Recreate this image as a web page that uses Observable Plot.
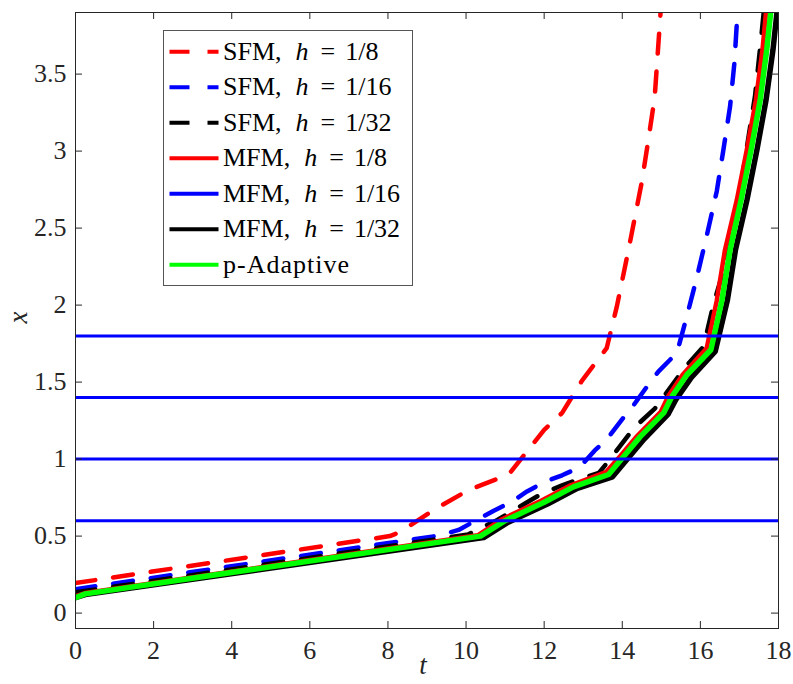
<!DOCTYPE html>
<html>
<head>
<meta charset="utf-8">
<script src="https://cdn.jsdelivr.net/npm/d3@7"></script>
<script src="https://cdn.jsdelivr.net/npm/@observablehq/plot@0.6"></script>
<style>
  html, body { margin: 0; padding: 0; background: #fff; }
  #wrap { position: relative; width: 793px; height: 684px; }
  #legend { position: absolute; left: 163px; top: 30px; }
  #wrap svg text { font-family: "Liberation Serif", "Times New Roman", serif; }
</style>
</head>
<body>
<div id="wrap"></div>
<script>
// ---- data ----
const xTicks = [0, 2, 4, 6, 8, 10, 12, 14, 16, 18];
const yTicks = [0, 0.5, 1, 1.5, 2, 2.5, 3, 3.5];

// SFM, h = 1/8 (red dashed)
const tSFM8 = [0, 8.05, 8.3, 9.17, 10.07, 11.09, 12.0, 12.46, 12.97, 13.27, 13.6, 13.86, 14.16, 14.5, 14.67, 14.83, 14.945, 14.98];
const xSFM8 = [0.195, 0.50, 0.525, 0.67, 0.80, 0.90, 1.19, 1.30, 1.51, 1.61, 1.72, 1.99, 2.36, 2.80, 3.076, 3.35, 3.77, 3.9];

// SFM, h = 1/16 (blue dashed)
const tSFM16 = [0, 9.35, 9.81, 10.24, 10.71, 11.18, 11.56, 12.03, 12.46, 12.9, 13.29, 13.61, 14.0, 14.29, 14.63, 14.93, 15.4, 15.65, 15.91, 16.18, 16.42, 16.59, 16.76, 16.87, 16.95];
const xSFM16 = [0.155, 0.505, 0.54, 0.60, 0.665, 0.725, 0.79, 0.854, 0.895, 0.945, 1.055, 1.13, 1.26, 1.35, 1.47, 1.57, 1.69, 1.925, 2.18, 2.47, 2.74, 3.01, 3.29, 3.57, 3.9];

// SFM, h = 1/32 (black dashed)
const tSFM32 = [0, 10.05, 10.8, 11.5, 11.9, 12.46, 12.84, 13.4, 13.69, 14.16, 14.33, 14.84, 15.06, 15.53, 15.69, 16.08, 16.33, 16.63, 16.84, 17.06, 17.23, 17.40, 17.57, 17.62];
const xSFM32 = [0.135, 0.51, 0.605, 0.71, 0.77, 0.83, 0.865, 0.91, 1.0, 1.157, 1.21, 1.33, 1.405, 1.57, 1.62, 1.73, 2.0, 2.26, 2.54, 2.81, 3.09, 3.36, 3.77, 3.9];

// MFM, h = 1/8 (red solid)
const tMFM8 = [0, 0.25, 10.3, 10.92, 11.92, 12.68, 13.58, 13.95, 14.38, 14.98, 15.18, 15.55, 16.16, 16.42, 16.63, 16.93, 17.19, 17.42, 17.59, 17.68];
const xMFM8 = [0.11, 0.13, 0.505, 0.61, 0.73, 0.83, 0.915, 1.02, 1.15, 1.305, 1.41, 1.55, 1.72, 2.03, 2.36, 2.68, 3.01, 3.33, 3.66, 3.9];

// MFM, h = 1/16 (blue solid) – shown as horizontal levels
const xMFM16 = [0.6, 1.0, 1.4, 1.8];

// MFM, h = 1/32 (black solid)
const tMFM32 = [0, 0.25, 10.45, 11.08, 12.1, 12.85, 13.75, 14.13, 14.56, 15.17, 15.38, 15.77, 16.38, 16.69, 16.9, 17.19, 17.45, 17.68, 17.86, 17.96];
const xMFM32 = [0.10, 0.12, 0.49, 0.59, 0.71, 0.81, 0.885, 1.0, 1.13, 1.29, 1.39, 1.53, 1.70, 2.03, 2.36, 2.68, 3.01, 3.33, 3.66, 3.9];

// p-Adaptive (green)
const tPA = [0, 0.25, 10.37, 11.0, 12.0, 12.75, 13.65, 14.03, 14.46, 15.06, 15.27, 15.65, 16.27, 16.55, 16.76, 17.04, 17.30, 17.53, 17.70, 17.80];
const xPA = [0.10, 0.125, 0.50, 0.60, 0.72, 0.82, 0.90, 1.016, 1.146, 1.30, 1.406, 1.546, 1.71, 2.03, 2.36, 2.68, 3.01, 3.33, 3.66, 3.9];

const legendLabels = ["SFM", "SFM", "SFM", "MFM", "MFM", "MFM", "p-Adaptive"];
const legendH = ["1/8", "1/16", "1/32", "1/8", "1/16", "1/32", null];
const legendColors = ["#ff0000", "#0000ff", "#000000", "#ff0000", "#0000ff", "#000000", "#00ff00"];
const legendDashed = [true, true, true, false, false, false, false];

// ---- build ----
const FONT = "'Liberation Serif', 'Times New Roman', serif";
const zip = (ts, xs) => ts.map((t, i) => ({t, x: xs[i]}));
const W = 793, H = 684;
const mL = 75, mR = 15, mT = 12, mB = 56;
const innerH = H - mT - mB, innerW = W - mL - mR;
const axisColor = "#262626";
const dash = "20,18";
const lw = 4.5;

const chart = Plot.plot({
  width: W, height: H,
  marginLeft: mL, marginRight: mR, marginTop: mT, marginBottom: mB,
  style: `font-family: ${FONT}; font-size: 26px; color: ${axisColor}; background: white; overflow: visible;`,
  x: {domain: [0, 18]},
  y: {domain: [-0.1, 3.9]},
  marks: [
    Plot.line(zip(tSFM8, xSFM8), {x: "t", y: "x", stroke: "#ff0000", strokeWidth: lw, strokeDasharray: dash, clip: true}),
    Plot.line(zip(tSFM16, xSFM16), {x: "t", y: "x", stroke: "#0000ff", strokeWidth: lw, strokeDasharray: dash, clip: true}),
    Plot.line(zip(tSFM32, xSFM32), {x: "t", y: "x", stroke: "#000000", strokeWidth: lw, strokeDasharray: dash, clip: true}),
    Plot.line(zip(tMFM8, xMFM8), {x: "t", y: "x", stroke: "#ff0000", strokeWidth: lw, clip: true}),
    Plot.line(zip(tMFM32, xMFM32), {x: "t", y: "x", stroke: "#000000", strokeWidth: 5.5, clip: true}),
    Plot.line(zip(tPA, xPA), {x: "t", y: "x", stroke: "#00ff00", strokeWidth: 5.5, clip: true}),
    Plot.ruleY(xMFM16, {y: d => d, stroke: "#0000ff", strokeWidth: 3}),
    Plot.frame({stroke: axisColor, strokeWidth: 1}),
    Plot.tickX(xTicks, {x: d => d, stroke: axisColor, insetTop: innerH - 7}),
    Plot.tickX(xTicks, {x: d => d, stroke: axisColor, insetBottom: innerH - 7}),
    Plot.tickY(yTicks, {y: d => d, stroke: axisColor, insetRight: innerW - 7}),
    Plot.tickY(yTicks, {y: d => d, stroke: axisColor, insetLeft: innerW - 7}),
    Plot.axisX(xTicks, {tickSize: 0, tickPadding: 12, tickFormat: d => String(d), label: null, fill: axisColor, fontFamily: FONT, fontSize: 26}),
    Plot.axisY(yTicks, {tickSize: 0, tickPadding: 9, tickFormat: d => String(d), label: null, fill: axisColor, fontFamily: FONT, fontSize: 26}),
    Plot.text(["t"], {text: d => d, frameAnchor: "bottom", dx: -4, dy: 45, fontStyle: "italic", fill: axisColor, fontFamily: FONT, fontSize: 27}),
    Plot.text(["x"], {text: d => d, frameAnchor: "left", dx: -57, dy: 3, rotate: -90, fontStyle: "italic", fill: axisColor, fontFamily: FONT, fontSize: 27})
  ]
});

const wrap = document.getElementById("wrap");
wrap.appendChild(chart);

// ---- legend ----
const LW = 249, LH = 255;
const leg = d3.select(wrap).append("svg")
  .attr("id", "legend")
  .attr("width", LW + 1).attr("height", LH + 1)
  .style("font-family", FONT)
  .style("font-size", "26px");
leg.append("rect").attr("x", 0.5).attr("y", 0.5).attr("width", LW).attr("height", LH)
  .attr("fill", "white").attr("stroke", "#555").attr("stroke-width", 1);
legendLabels.forEach((lab, i) => {
  const cy = 21.7 + i * 35.5;
  const g = leg.append("g");
  g.append("line").attr("x1", 6.5).attr("x2", 55.5).attr("y1", cy).attr("y2", cy)
    .attr("stroke", legendColors[i]).attr("stroke-width", 4)
    .attr("stroke-dasharray", legendDashed[i] ? "20,18" : null);
  const txt = g.append("text").attr("x", 60).attr("y", cy + 8).attr("fill", "#000");
  if (legendH[i]) {
    txt.append("tspan").text(lab + ",");
    txt.append("tspan").attr("dx", 14).attr("font-style", "italic").text("h");
    txt.append("tspan").attr("dx", 12).text("=");
    txt.append("tspan").attr("dx", 10).text(legendH[i]);
  } else {
    txt.text(lab).attr("letter-spacing", "1px");
  }
});
</script>
</body>
</html>
